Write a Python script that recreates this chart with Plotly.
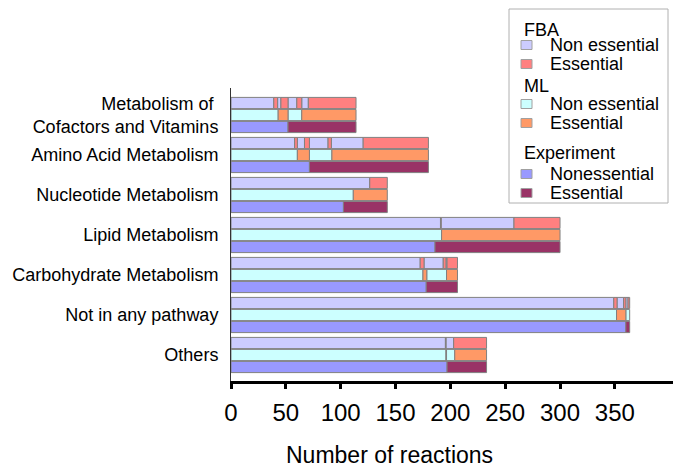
import plotly.graph_objects as go
import numpy as np

categories = ["Metabolism of <br>Cofactors and Vitamins", "Amino Acid Metabolism",
              "Nucleotide Metabolism", "Lipid Metabolism", "Carbohydrate Metabolism",
              "Not in any pathway", "Others"]

# segment lengths along each bar, alternating Non essential / Essential (starting Non essential)
fba_segments = [
    [39, 3.5, 3, 6.5, 8, 4.5, 6, 43.5],
    [58, 2.5, 6.5, 4.5, 17, 3, 29, 59.5],
    [126.5, 16],
    [191, 0.6, 66.4, 42],
    [172.5, 3.5, 17.5, 2.5, 1, 9.5],
    [349, 3, 6, 2, 2, 1.5],
    [195.5, 0.5, 7, 30],
]
ml_segments = [
    [43, 9, 12.5, 49.5],
    [60.5, 11, 20.5, 88],
    [111.5, 31],
    [192, 108],
    [175, 3.5, 18, 10],
    [351.5, 8.5, 3.5],
    [196, 0.5, 7.5, 29],
]
exp_segments = [
    [52, 62],
    [71.5, 108.5],
    [102.5, 40],
    [186, 114],
    [178, 28.5],
    [360, 3.5],
    [197, 36],
]

x_ticks = [0, 50, 100, 150, 200, 250, 300, 350]

series = [
    ("FBA", fba_segments, -0.3, ("Non essential", "#CCCCFF"), ("Essential", "#FF8080")),
    ("ML", ml_segments, 0.0, ("Non essential", "#CCFFFF"), ("Essential", "#FF9966")),
    ("Experiment", exp_segments, 0.3, ("Nonessential", "#9999FF"), ("Essential", "#993366")),
]

# plot area in pixels
L, R, T, B = 231, 673, 88, 381
W, H = R - L, B - T


def px(x):
    return (x - L) / W


def py(y):
    return (B - y) / H


fig = go.Figure()
for gname, segs, off, ne, es in series:
    for cls, (lab, col) in enumerate([ne, es]):
        ys, xs, bs = [], [], []
        for ci, seglist in enumerate(segs):
            starts = np.concatenate([[0], np.cumsum(seglist)[:-1]])
            for k, (s, w) in enumerate(zip(starts, seglist)):
                if k % 2 == cls:
                    ys.append(ci + off)
                    xs.append(w)
                    bs.append(float(s))
        fig.add_trace(go.Bar(
            y=ys, x=xs, base=bs, orientation="h", width=0.28,
            name=f"{gname} {lab}", showlegend=False,
            marker=dict(color=col, line=dict(color="#808080", width=1)),
            hoverinfo="skip",
        ))

# legend (drawn as layout decoration)
shapes = [dict(type="rect", xref="paper", yref="paper", layer="above",
               x0=px(509), x1=px(668), y0=py(9), y1=py(203),
               line=dict(color="#B0B0B0", width=1), fillcolor="white")]
annotations = []
header_y = [30, 86, 153]
item_y = [(45, 64), (104, 123), (174, 193)]
for (gname, _, _, ne, es), hy, iys in zip(series, header_y, item_y):
    annotations.append(dict(text=gname, xref="paper", yref="paper", x=px(522), y=py(hy),
                            xanchor="left", yanchor="middle", showarrow=False,
                            font=dict(size=18)))
    for (lab, col), iy in zip([ne, es], iys):
        shapes.append(dict(type="rect", xref="paper", yref="paper", layer="above",
                           x0=px(521), x1=px(532), y0=py(iy - 4.5), y1=py(iy + 4.5),
                           line=dict(color="#A0A0A0", width=1), fillcolor=col))
        annotations.append(dict(text=lab, xref="paper", yref="paper", x=px(548), y=py(iy),
                                xanchor="left", yanchor="middle", showarrow=False,
                                font=dict(size=18)))

annotations.append(dict(text="Number of reactions", xref="paper", yref="paper",
                        x=px(389), y=py(455), xanchor="center", yanchor="middle",
                        showarrow=False, font=dict(size=23)))

fig.update_layout(
    width=685, height=472,
    margin=dict(l=L, r=685 - R, t=T, b=472 - B),
    barmode="overlay", showlegend=False,
    plot_bgcolor="white", paper_bgcolor="white",
    font=dict(family="Liberation Sans, Arial, sans-serif", color="black"),
    xaxis=dict(range=[0, 403], tickvals=x_ticks, showgrid=False, zeroline=False,
               showline=True, linecolor="black", linewidth=3,
               ticks="outside", ticklen=5, tickwidth=3, tickcolor="black",
               tickfont=dict(size=24), ticklabelstandoff=3),
    yaxis=dict(range=[6.65, -0.675], tickvals=list(range(len(categories))),
               ticktext=categories, showgrid=False, zeroline=False,
               showline=True, linecolor="#333333", linewidth=1,
               ticks="", tickfont=dict(size=18), ticklabelstandoff=8),
    shapes=shapes,
    annotations=annotations,
)

fig.write_html("out.html")
